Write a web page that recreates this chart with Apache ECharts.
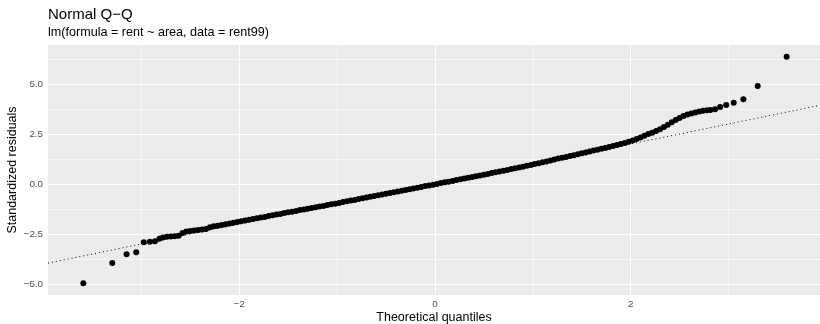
<!DOCTYPE html>
<html>
<head>
<meta charset="utf-8">
<script src="https://cdn.jsdelivr.net/npm/echarts@6/dist/echarts.min.js"></script>
<style>
  html, body { margin: 0; padding: 0; background: #ffffff; overflow: hidden; }
  #chart { width: 820px; height: 324px; }
</style>
</head>
<body>
<div id="chart"></div>
<script>
// Normal Q-Q plot of the standardized residuals of lm(rent ~ area) on rent99
const theoretical = [
  -3.594, -3.298, -3.152, -3.053, -2.976, -2.914, -2.862, -2.816,
  -2.78, -2.74, -2.70, -2.66, -2.62, -2.58, -2.54, -2.50, -2.46, -2.42,
  -2.38, -2.34, -2.30, -2.26, -2.22, -2.18, -2.14, -2.10, -2.06, -2.02,
  -1.98, -1.94, -1.90, -1.86, -1.82, -1.78, -1.74, -1.70, -1.66, -1.62,
  -1.58, -1.54, -1.50, -1.46, -1.42, -1.38, -1.34, -1.30, -1.26, -1.22,
  -1.18, -1.14, -1.10, -1.06, -1.02, -0.98, -0.94, -0.90, -0.86, -0.82,
  -0.78, -0.74, -0.70, -0.66, -0.62, -0.58, -0.54, -0.50, -0.46, -0.42,
  -0.38, -0.34, -0.30, -0.26, -0.22, -0.18, -0.14, -0.10, -0.06, -0.02,
  0.02, 0.06, 0.10, 0.14, 0.18, 0.22, 0.26, 0.30, 0.34, 0.38,
  0.42, 0.46, 0.50, 0.54, 0.58, 0.62, 0.66, 0.70, 0.74, 0.78,
  0.82, 0.86, 0.90, 0.94, 0.98, 1.02, 1.06, 1.10, 1.14, 1.18,
  1.22, 1.26, 1.30, 1.34, 1.38, 1.42, 1.46, 1.50, 1.54, 1.58,
  1.62, 1.66, 1.70, 1.74, 1.78, 1.82, 1.86, 1.90, 1.94, 1.98,
  2.02, 2.06, 2.10, 2.14, 2.18, 2.22, 2.26, 2.30, 2.34, 2.38,
  2.42, 2.46, 2.50, 2.54, 2.58, 2.62, 2.66, 2.70, 2.74, 2.78,
  2.816, 2.862, 2.914, 2.976, 3.053, 3.152, 3.298, 3.594
];
const residuals = [
  -4.95, -3.94, -3.50, -3.40, -2.90, -2.87, -2.85, -2.72,
  -2.66, -2.62, -2.61, -2.60, -2.57, -2.44, -2.36, -2.33, -2.31, -2.28,
  -2.26, -2.23, -2.15, -2.10, -2.07, -2.03, -2.00, -1.96, -1.92, -1.88,
  -1.85, -1.81, -1.77, -1.73, -1.70, -1.66, -1.63, -1.59, -1.55, -1.51,
  -1.48, -1.44, -1.40, -1.37, -1.33, -1.29, -1.26, -1.22, -1.18, -1.15,
  -1.11, -1.08, -1.04, -1.00, -0.97, -0.93, -0.89, -0.85, -0.81, -0.78,
  -0.74, -0.70, -0.66, -0.62, -0.59, -0.55, -0.51, -0.47, -0.43, -0.40,
  -0.36, -0.32, -0.28, -0.25, -0.21, -0.17, -0.13, -0.09, -0.06, -0.02,
  0.02, 0.06, 0.10, 0.13, 0.17, 0.21, 0.25, 0.29, 0.33, 0.36,
  0.40, 0.44, 0.48, 0.52, 0.56, 0.60, 0.64, 0.68, 0.72, 0.76,
  0.80, 0.84, 0.88, 0.93, 0.97, 1.01, 1.05, 1.10, 1.14, 1.19,
  1.24, 1.29, 1.33, 1.37, 1.41, 1.45, 1.50, 1.55, 1.59, 1.64,
  1.69, 1.73, 1.78, 1.82, 1.87, 1.92, 1.97, 2.02, 2.07, 2.13,
  2.19, 2.26, 2.34, 2.43, 2.51, 2.58, 2.66, 2.75, 2.86, 2.98,
  3.10, 3.22, 3.32, 3.42, 3.49, 3.54, 3.59, 3.64, 3.68, 3.70,
  3.72, 3.75, 3.87, 3.97, 4.08, 4.25, 4.92, 6.38
];

// reference line through the quartiles
const qqIntercept = 0.015;
const qqSlope = 1.0;

// axis limits and breaks
const xLimits = [-3.955, 3.935];
const yLimits = [-5.535, 6.965];
const xBreaks = [-2, 0, 2];
const xMinorBreaks = [-3, -1, 1, 3];
const yBreaks = [-5, -2.5, 0, 2.5, 5];
const yMinorBreaks = [-3.75, -1.25, 1.25, 3.75, 6.25];

const FONT = '"Liberation Sans", Arial, sans-serif';
const minus = s => String(s).replace('-', '\u2212');

const points = theoretical.map((x, i) => [x, residuals[i]]);
const qqLine = xLimits.map(x => [x, qqIntercept + qqSlope * x]);

const gridLines = []
  .concat(xMinorBreaks.map(v => ({ xAxis: v, lineStyle: { width: 0.55 } })))
  .concat(yMinorBreaks.map(v => ({ yAxis: v, lineStyle: { width: 0.55 } })))
  .concat(xBreaks.map(v => ({ xAxis: v, lineStyle: { width: 1.1 } })))
  .concat(yBreaks.map(v => ({ yAxis: v, lineStyle: { width: 1.1 } })));

const chart = echarts.init(document.getElementById('chart'), null, { renderer: 'canvas', width: 820, height: 324 });

chart.setOption({
  animation: false,
  backgroundColor: '#ffffff',
  textStyle: { fontFamily: FONT },
  title: [
    {
      text: 'Normal Q\u2212Q',
      left: 48, top: 7, padding: 0,
      textStyle: { fontFamily: FONT, fontSize: 15, fontWeight: 'normal', color: '#000000' }
    },
    {
      text: 'lm(formula = rent ~ area, data = rent99)',
      left: 48, top: 26, padding: 0,
      textStyle: { fontFamily: FONT, fontSize: 12.6, fontWeight: 'normal', color: '#000000' }
    }
  ],
  grid: {
    left: 48, right: 0, top: 45, bottom: 29,
    outerBoundsMode: 'none',
    containLabel: false,
    show: true, backgroundColor: '#EBEBEB', borderWidth: 0
  },
  xAxis: {
    type: 'value',
    min: xLimits[0], max: xLimits[1],
    name: 'Theoretical quantiles',
    nameLocation: 'middle', nameGap: 16.5, nameMoveOverlap: false,
    nameTextStyle: { fontFamily: FONT, fontSize: 12.5, color: '#000000' },
    axisLine: { show: false },
    splitLine: { show: false },
    axisTick: { show: true, length: 3.5, customValues: xBreaks, lineStyle: { color: '#333333', width: 1 } },
    axisLabel: {
      customValues: xBreaks, margin: 4,
      fontFamily: FONT, fontSize: 9.8, color: '#4D4D4D',
      formatter: v => minus(v)
    }
  },
  yAxis: {
    type: 'value',
    min: yLimits[0], max: yLimits[1],
    name: 'Standardized residuals',
    nameLocation: 'middle', nameGap: 28.5, nameRotate: 90, nameMoveOverlap: false,
    nameTextStyle: { fontFamily: FONT, fontSize: 12.5, color: '#000000' },
    axisLine: { show: false },
    splitLine: { show: false },
    axisTick: { show: true, length: 3.5, customValues: yBreaks, lineStyle: { color: '#333333', width: 1 } },
    axisLabel: {
      customValues: yBreaks, margin: 5,
      fontFamily: FONT, fontSize: 9.8, color: '#4D4D4D',
      formatter: v => minus(Number(v).toFixed(1))
    }
  },
  series: [
    {
      // panel grid lines
      type: 'line',
      data: [],
      zlevel: 0,
      z: 1,
      silent: true,
      markLine: {
        silent: true,
        symbol: ['none', 'none'],
        label: { show: false },
        lineStyle: { color: '#ffffff', type: 'solid' },
        emphasis: { disabled: true },
        data: gridLines
      }
    },
    {
      type: 'scatter',
      data: points,
      zlevel: 1,
      z: 3,
      symbol: 'circle',
      symbolSize: 6,
      itemStyle: { color: '#000000', opacity: 1 },
      silent: true
    },
    {
      type: 'line',
      data: qqLine,
      zlevel: 1,
      z: 4,
      symbol: 'none',
      silent: true,
      lineStyle: { color: '#000000', width: 1, type: [1, 3] }
    }
  ]
});
</script>
</body>
</html>
